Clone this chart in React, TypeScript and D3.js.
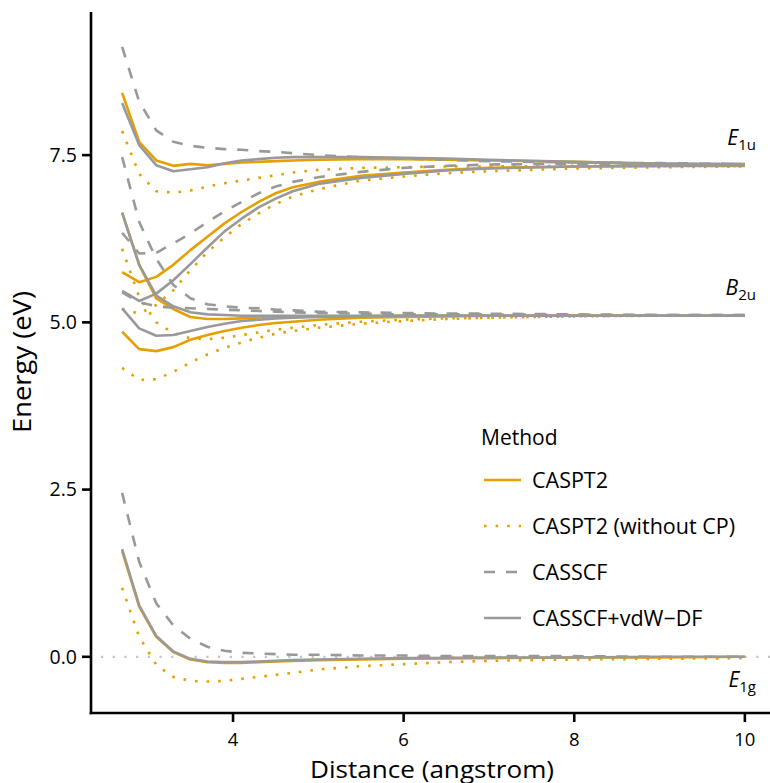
import React from "react";
import * as d3 from "d3";

// Distances (angstrom)
const distances = [2.7, 2.9, 3.1, 3.3, 3.5, 3.7, 3.9, 4.1, 4.3, 4.5, 4.7, 5.0, 5.5, 6.0, 6.5, 7.0, 8.0, 9.0, 10.0];

const methods = ["CASPT2", "CASPT2 (without CP)", "CASSCF", "CASSCF+vdW\u2212DF"];

// CASPT2
const caspt2_E1g = [1.58, 0.75, 0.30, 0.07, -0.04, -0.08, -0.09, -0.09, -0.08, -0.07, -0.06, -0.05, -0.04, -0.03, -0.02, -0.02, -0.01, -0.01, 0.0];
const caspt2_B2u_a = [4.86, 4.60, 4.57, 4.63, 4.74, 4.81, 4.87, 4.92, 4.96, 4.99, 5.01, 5.04, 5.07, 5.08, 5.09, 5.10, 5.10, 5.10, 5.10];
const caspt2_B2u_b = [6.64, 5.86, 5.36, 5.20, 5.08, 5.05, 5.05, 5.06, 5.07, 5.08, 5.08, 5.09, 5.09, 5.10, 5.10, 5.10, 5.10, 5.10, 5.10];
const caspt2_E1u_a = [5.75, 5.60, 5.68, 5.86, 6.08, 6.28, 6.48, 6.65, 6.80, 6.93, 7.02, 7.10, 7.19, 7.24, 7.28, 7.31, 7.33, 7.34, 7.34];
const caspt2_E1u_b = [8.43, 7.70, 7.42, 7.34, 7.37, 7.35, 7.37, 7.39, 7.40, 7.41, 7.42, 7.43, 7.44, 7.44, 7.43, 7.42, 7.40, 7.37, 7.35];

// CASPT2 (without CP)
const nocp_E1g = [1.03, 0.30, -0.12, -0.30, -0.36, -0.37, -0.36, -0.33, -0.30, -0.27, -0.24, -0.19, -0.14, -0.11, -0.08, -0.06, -0.04, -0.03, -0.02];
const nocp_B2u_a = [4.32, 4.14, 4.15, 4.26, 4.40, 4.52, 4.62, 4.70, 4.77, 4.83, 4.87, 4.92, 4.98, 5.02, 5.05, 5.07, 5.09, 5.10, 5.10];
const nocp_B2u_b = [6.10, 5.38, 5.00, 4.84, 4.76, 4.75, 4.77, 4.81, 4.85, 4.89, 4.92, 4.96, 5.01, 5.04, 5.06, 5.07, 5.09, 5.10, 5.10];
const nocp_E1u_a = [5.20, 5.13, 5.26, 5.48, 5.78, 6.05, 6.27, 6.47, 6.63, 6.77, 6.88, 6.99, 7.12, 7.18, 7.23, 7.26, 7.30, 7.32, 7.33];
const nocp_E1u_b = [7.86, 7.22, 6.96, 6.94, 6.97, 7.03, 7.08, 7.12, 7.16, 7.20, 7.24, 7.28, 7.31, 7.32, 7.33, 7.33, 7.34, 7.34, 7.34];

// CASSCF
const casscf_E1g = [2.45, 1.42, 0.80, 0.47, 0.27, 0.15, 0.09, 0.06, 0.05, 0.04, 0.03, 0.03, 0.02, 0.02, 0.01, 0.01, 0.01, 0.0, 0.0];
const casscf_B2u_a = [5.45, 5.30, 5.24, 5.22, 5.21, 5.20, 5.19, 5.18, 5.17, 5.16, 5.15, 5.14, 5.13, 5.12, 5.12, 5.12, 5.11, 5.11, 5.11];
const casscf_B2u_b = [7.47, 6.50, 5.95, 5.56, 5.36, 5.27, 5.24, 5.22, 5.21, 5.19, 5.18, 5.16, 5.15, 5.14, 5.13, 5.13, 5.12, 5.11, 5.11];
const casscf_E1u_a = [6.34, 6.03, 6.04, 6.18, 6.33, 6.50, 6.66, 6.80, 6.93, 7.03, 7.10, 7.17, 7.25, 7.31, 7.34, 7.36, 7.37, 7.37, 7.37];
const casscf_E1u_b = [9.12, 8.30, 7.87, 7.70, 7.64, 7.61, 7.59, 7.58, 7.56, 7.55, 7.53, 7.50, 7.47, 7.45, 7.43, 7.41, 7.39, 7.38, 7.37];

// CASSCF+vdW-DF
const vdw_E1g = [1.61, 0.77, 0.31, 0.08, -0.03, -0.07, -0.08, -0.08, -0.07, -0.06, -0.05, -0.04, -0.03, -0.02, -0.02, -0.01, -0.01, 0.0, 0.0];
const vdw_B2u_a = [5.21, 4.91, 4.80, 4.81, 4.87, 4.93, 4.98, 5.02, 5.04, 5.06, 5.07, 5.08, 5.09, 5.10, 5.10, 5.10, 5.10, 5.10, 5.10];
const vdw_B2u_b = [6.64, 5.86, 5.40, 5.24, 5.15, 5.12, 5.11, 5.10, 5.10, 5.10, 5.10, 5.10, 5.10, 5.10, 5.10, 5.10, 5.10, 5.10, 5.10];
const vdw_E1u_a = [5.47, 5.32, 5.43, 5.63, 5.87, 6.12, 6.36, 6.55, 6.72, 6.85, 6.96, 7.07, 7.16, 7.22, 7.27, 7.30, 7.33, 7.34, 7.35];
const vdw_E1u_b = [8.28, 7.65, 7.35, 7.26, 7.29, 7.32, 7.38, 7.42, 7.44, 7.46, 7.47, 7.47, 7.47, 7.46, 7.45, 7.43, 7.40, 7.37, 7.36];

const xTicks = [4, 6, 8, 10];
const yTicks = [0, 2.5, 5, 7.5];

const seriesByMethod = [
  [caspt2_E1g, caspt2_B2u_a, caspt2_B2u_b, caspt2_E1u_a, caspt2_E1u_b],
  [nocp_E1g, nocp_B2u_a, nocp_B2u_b, nocp_E1u_a, nocp_E1u_b],
  [casscf_E1g, casscf_B2u_a, casscf_B2u_b, casscf_E1u_a, casscf_E1u_b],
  [vdw_E1g, vdw_B2u_a, vdw_B2u_b, vdw_E1u_a, vdw_E1u_b],
];

const ORANGE = "#E69F00";
const GRAY = "#999999";
const styles = [
  { stroke: ORANGE, dash: undefined as string | undefined },
  { stroke: ORANGE, dash: "2.6 9" },
  { stroke: GRAY, dash: "11 11" },
  { stroke: GRAY, dash: undefined as string | undefined },
];

const W = 770;
const H = 783;
const LEFT = 91;
const BOTTOM = 713;
const TOP = 12;
const RIGHT = 776;
const FONT = "'Open Sans', sans-serif";

export default function App() {
  const x = d3.scaleLinear().domain([2.335, 10.365]).range([LEFT, RIGHT]);
  const y = d3.scaleLinear().domain([-0.84, 9.64]).range([BOTTOM, TOP]);
  const line = d3
    .line<number>()
    .x((_, i) => x(distances[i]))
    .y((d) => y(d));

  const lw = 2.6;

  const stateLabels = [
    { main: "E", sub: "1u", v: 7.35, dy: -20 },
    { main: "B", sub: "2u", v: 5.1, dy: -21 },
    { main: "E", sub: "1g", v: 0, dy: 30 },
  ];

  const legendX = 484;
  const legendRows = [480, 526, 572, 618];

  return (
    <svg
      width={W}
      height={H}
      style={{ position: "absolute", left: 0, top: 0, background: "#fff" }}
      fontFamily={FONT}
    >
      <rect x={0} y={0} width={W} height={H} fill="#fff" />
      {/* zero reference */}
      <line
        x1={LEFT + 10}
        x2={W}
        y1={y(0)}
        y2={y(0)}
        stroke="#c4c4c4"
        strokeWidth={2.2}
        strokeDasharray="2.2 9.5"
      />
      {seriesByMethod.map((group, mi) =>
        group.map((vals, si) => (
          <path
            key={`${mi}-${si}`}
            d={line(vals) || ""}
            fill="none"
            stroke={styles[mi].stroke}
            strokeWidth={lw}
            strokeDasharray={styles[mi].dash}
            strokeLinejoin="round"
          />
        ))
      )}
      {/* axes */}
      <line x1={LEFT} x2={LEFT} y1={TOP} y2={BOTTOM + 1.3} stroke="#000" strokeWidth={2.6} />
      <line x1={LEFT - 1.3} x2={W} y1={BOTTOM} y2={BOTTOM} stroke="#000" strokeWidth={2.6} />
      {yTicks.map((t) => (
        <g key={t}>
          <line x1={LEFT - 9} x2={LEFT} y1={y(t)} y2={y(t)} stroke="#000" strokeWidth={2.6} />
          <text
            x={LEFT - 14}
            y={y(t) + 6.8}
            textAnchor="end"
            fontSize={19.5}
            fill="#000"
          >
            {t.toFixed(1)}
          </text>
        </g>
      ))}
      {xTicks.map((t) => (
        <g key={t}>
          <line x1={x(t)} x2={x(t)} y1={BOTTOM} y2={BOTTOM + 9} stroke="#000" strokeWidth={2.6} />
          <text x={x(t)} y={746} textAnchor="middle" fontSize={18.5} fill="#000">
            {t}
          </text>
        </g>
      ))}
      <text
        x={432}
        y={777.5}
        textAnchor="middle"
        fontSize={24}
        textLength={244}
        lengthAdjust="spacingAndGlyphs"
        fill="#000"
      >
        Distance (angstrom)
      </text>
      <text
        transform={`translate(31, 362) rotate(-90)`}
        textAnchor="middle"
        fontSize={26}
        textLength={142}
        lengthAdjust="spacingAndGlyphs"
        fill="#000"
      >
        Energy (eV)
      </text>
      {stateLabels.map((s, i) => (
        <text key={i} x={756} y={y(s.v) + s.dy} textAnchor="end" fill="#000">
          <tspan fontSize={21} fontStyle="italic">{s.main}</tspan>
          <tspan fontSize={15} dy={5}>{s.sub}</tspan>
        </text>
      ))}
      {/* legend */}
      <text x={481} y={445} fontSize={21} fill="#000">
        Method
      </text>
      {methods.map((m, i) => (
        <g key={m}>
          <line
            x1={legendX}
            x2={legendX + 37}
            y1={legendRows[i]}
            y2={legendRows[i]}
            stroke={styles[i].stroke}
            strokeWidth={lw}
            strokeDasharray={i === 1 ? "2.6 9" : styles[i].dash}
          />
          <text x={532} y={legendRows[i] + 7.5} fontSize={21.5} fill="#000">
            {m}
          </text>
        </g>
      ))}
    </svg>
  );
}
